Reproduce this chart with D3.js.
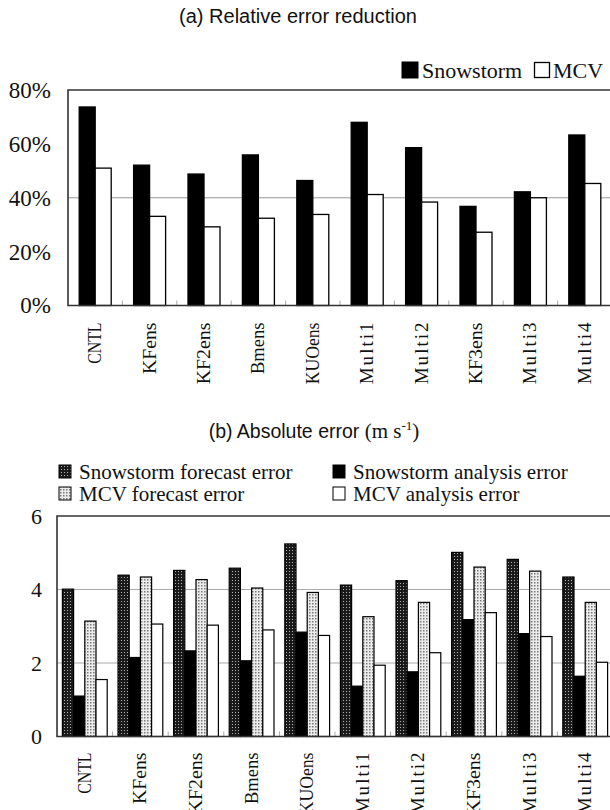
<!DOCTYPE html>
<html>
<head>
<meta charset="utf-8">
<script src="https://cdn.jsdelivr.net/npm/d3@7"></script>
<style>
  html, body { margin: 0; padding: 0; background: #fff; }
  svg { display: block; }
</style>
</head>
<body>
<div id="chart"></div>
<script>
const categories = ['CNTL', 'KFens', 'KF2ens', 'Bmens', 'KUOens', 'Multi1', 'Multi2', 'KF3ens', 'Multi3', 'Multi4'];

// (a) relative error reduction, %
const snowReduction = [73.7, 52.1, 48.8, 55.9, 46.4, 68.0, 58.6, 36.8, 42.2, 63.3];
const mcvReduction = [51.0, 33.1, 29.2, 32.4, 33.8, 41.2, 38.4, 27.2, 40.0, 45.3];
const reductionTicks = [0, 20, 40, 60, 80];

// (b) absolute error, m/s
const snowForecast = [4.01, 4.39, 4.52, 4.58, 5.24, 4.12, 4.24, 5.01, 4.82, 4.34];
const snowAnalysis = [1.10, 2.15, 2.33, 2.06, 2.84, 1.37, 1.76, 3.18, 2.80, 1.64];
const mcvForecast = [3.14, 4.34, 4.27, 4.04, 3.92, 3.26, 3.65, 4.61, 4.50, 3.65];
const mcvAnalysis = [1.55, 3.06, 3.03, 2.90, 2.75, 1.94, 2.28, 3.37, 2.72, 2.02];
const errorTicks = [0, 2, 4, 6];

const serif = '"Liberation Serif", "Times New Roman", serif';
const sans = '"Liberation Sans", Arial, sans-serif';

const svg = d3.select('#chart').append('svg')
    .attr('width', 610)
    .attr('height', 810);

const defs = svg.append('defs');

const darkDots = defs.append('pattern')
    .attr('id', 'darkDots')
    .attr('patternUnits', 'userSpaceOnUse')
    .attr('width', 3).attr('height', 3);
darkDots.append('rect').attr('width', 3).attr('height', 3).attr('fill', '#1a1a1a');
darkDots.append('rect').attr('x', 1).attr('y', 1).attr('width', 1).attr('height', 1).attr('fill', '#b0b0b0');

const lightDots = defs.append('pattern')
    .attr('id', 'lightDots')
    .attr('patternUnits', 'userSpaceOnUse')
    .attr('width', 3).attr('height', 3);
lightDots.append('rect').attr('width', 3).attr('height', 3).attr('fill', '#ececec');
lightDots.append('rect').attr('x', 0).attr('y', 0).attr('width', 1.5).attr('height', 1.5).attr('fill', '#7a7a7a');

// category labels: fixed advance per character, like the original half-width font
function categoryLabels(g, x, y0) {
    g.selectAll('.cat-label')
        .data(categories)
        .enter()
        .append('text')
        .attr('class', 'cat-label')
        .attr('transform', d => `translate(${x(d) + x.bandwidth() / 2 + 6},${y0 + 17}) rotate(-90)`)
        .attr('text-anchor', 'end')
        .style('font-family', serif)
        .style('font-size', '19px')
        .attr('textLength', d => d.length * 10.3)
        .attr('lengthAdjust', d => d.startsWith('Multi') ? 'spacing' : 'spacingAndGlyphs')
        .attr('fill', '#111')
        .text(d => d);
}

function boundaryTicks(g, x, y0) {
    g.selectAll('.cat-tick')
        .data(categories.slice(1))
        .enter()
        .append('line')
        .attr('class', 'cat-tick')
        .attr('x1', d => x(d))
        .attr('x2', d => x(d))
        .attr('y1', y0)
        .attr('y2', y0 - 5)
        .attr('stroke', '#aaa')
        .attr('stroke-width', 1);
}

// ---------- (a) ----------
const xa = d3.scaleBand().domain(categories).range([68, 68 + 544]);
const ya = d3.scaleLinear().domain([0, 80]).range([305.5, 90]);
const ga = svg.append('g');

ga.append('text')
    .attr('x', 298).attr('y', 23)
    .attr('text-anchor', 'middle')
    .style('font-family', sans)
    .style('font-size', '20px')
    .attr('fill', '#111')
    .text('(a) Relative error reduction');

ga.append('line')
    .attr('x1', 68).attr('x2', 612)
    .attr('y1', ya(40)).attr('y2', ya(40))
    .attr('stroke', '#999').attr('stroke-width', 1);

const yAxisA = ga.append('g')
    .attr('transform', 'translate(68,0)')
    .call(d3.axisLeft(ya).tickValues(reductionTicks).tickSize(0).tickPadding(17).tickFormat(d => d + '%'));
yAxisA.select('.domain').remove();
yAxisA.selectAll('text')
    .style('font-family', serif)
    .style('font-size', '23px')
    .attr('fill', '#111');

const barW = 16;
const seriesA = [
    { values: snowReduction, fill: '#000' },
    { values: mcvReduction, fill: '#fff' }
];
seriesA.forEach((s, k) => {
    ga.selectAll(null)
        .data(categories)
        .enter()
        .append('rect')
        .attr('x', d => xa(d) + xa.bandwidth() / 2 - barW + k * barW)
        .attr('y', (d, i) => ya(s.values[i]))
        .attr('width', barW)
        .attr('height', (d, i) => ya(0) - ya(s.values[i]))
        .attr('fill', s.fill)
        .attr('stroke', '#000')
        .attr('stroke-width', 1.3);
});

boundaryTicks(ga, xa, ya(0));

ga.append('path')
    .attr('d', `M612,${ya(80)}H68V${ya(0)}H612`)
    .attr('fill', 'none')
    .attr('stroke', '#333')
    .attr('stroke-width', 1.6);

categoryLabels(ga, xa, ya(0));

// legend (a)
const legA = ga.append('g');
legA.append('rect').attr('x', 402).attr('y', 62).attr('width', 16).attr('height', 16)
    .attr('fill', '#000').attr('stroke', '#000');
legA.append('text').attr('x', 422).attr('y', 77.5)
    .style('font-family', serif).style('font-size', '22px').attr('fill', '#111')
    .text('Snowstorm');
legA.append('rect').attr('x', 534.5).attr('y', 62.5).attr('width', 15).attr('height', 15)
    .attr('fill', '#fff').attr('stroke', '#000').attr('stroke-width', 1.3);
legA.append('text').attr('x', 553).attr('y', 77.5)
    .style('font-family', serif).style('font-size', '22px').attr('fill', '#111')
    .text('MCV');

// ---------- (b) ----------
const xb = d3.scaleBand().domain(categories).range([57, 57 + 556]);
const yb = d3.scaleLinear().domain([0, 6]).range([736.5, 516]);
const gb = svg.append('g');

const titleB = gb.append('text')
    .attr('x', 314).attr('y', 438)
    .attr('text-anchor', 'middle')
    .attr('fill', '#111');
titleB.append('tspan').style('font-family', sans).style('font-size', '19.5px').text('(b) Absolute error ');
titleB.append('tspan').style('font-family', serif).style('font-size', '21px').text('(m s');
titleB.append('tspan').style('font-family', serif).style('font-size', '13px').attr('dy', -8).text('-1');
titleB.append('tspan').style('font-family', serif).style('font-size', '21px').attr('dy', 8).text(')');

gb.selectAll('.grid')
    .data([2, 4])
    .enter()
    .append('line')
    .attr('x1', 57).attr('x2', 613)
    .attr('y1', d => yb(d)).attr('y2', d => yb(d))
    .attr('stroke', '#aaa').attr('stroke-width', 1.2);

const yAxisB = gb.append('g')
    .attr('transform', 'translate(57,0)')
    .call(d3.axisLeft(yb).tickValues(errorTicks).tickSize(0).tickPadding(15).tickFormat(d3.format('d')));
yAxisB.select('.domain').remove();
yAxisB.selectAll('text')
    .style('font-family', serif)
    .style('font-size', '22px')
    .attr('fill', '#111');

const barWb = 11.2;
const seriesB = [
    { name: 'Snowstorm forecast error', values: snowForecast, fill: 'url(#darkDots)' },
    { name: 'Snowstorm analysis error', values: snowAnalysis, fill: '#000' },
    { name: 'MCV forecast error', values: mcvForecast, fill: 'url(#lightDots)' },
    { name: 'MCV analysis error', values: mcvAnalysis, fill: '#fff' }
];
seriesB.forEach((s, k) => {
    gb.selectAll(null)
        .data(categories)
        .enter()
        .append('rect')
        .attr('x', d => xb(d) + xb.bandwidth() / 2 - 2 * barWb + k * barWb)
        .attr('y', (d, i) => yb(s.values[i]))
        .attr('width', barWb)
        .attr('height', (d, i) => yb(0) - yb(s.values[i]))
        .attr('fill', s.fill)
        .attr('stroke', '#000')
        .attr('stroke-width', 1.2);
});

boundaryTicks(gb, xb, yb(0));

gb.append('path')
    .attr('d', `M613,${yb(6)}H57V${yb(0)}H613`)
    .attr('fill', 'none')
    .attr('stroke', '#333')
    .attr('stroke-width', 1.6);

categoryLabels(gb, xb, yb(0) - 1);

// legend (b): two columns, two rows
const legendPos = [[59, 479], [333, 479], [59, 501], [333, 501]];
seriesB.forEach((s, k) => {
    const [lx, ly] = legendPos[k];
    gb.append('rect')
        .attr('x', lx).attr('y', ly - 14).attr('width', 12).attr('height', 13)
        .attr('fill', s.fill).attr('stroke', '#000').attr('stroke-width', 1);
    gb.append('text')
        .attr('x', lx + 20).attr('y', ly)
        .style('font-family', serif).style('font-size', '21px').attr('fill', '#111')
        .text(s.name);
});
</script>
</body>
</html>
